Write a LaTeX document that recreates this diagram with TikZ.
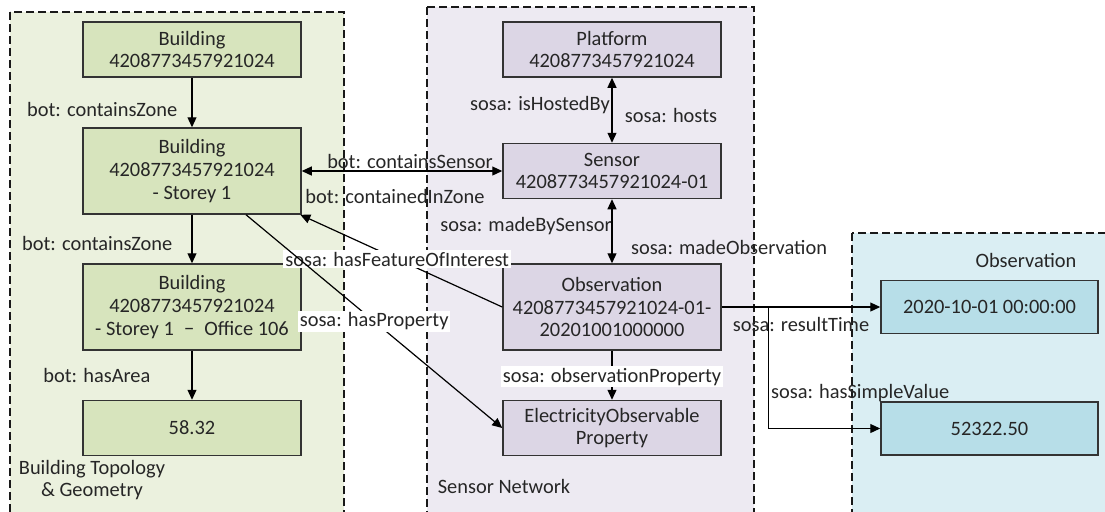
\documentclass[tikz,border=0pt]{standalone}
\usepackage{fontspec}
\setmainfont{Carlito}
\usetikzlibrary{arrows.meta}
\definecolor{greenbg}{HTML}{EBF1DE}
\definecolor{greenbox}{HTML}{D7E4BD}
\definecolor{purplebg}{HTML}{EDEAF2}
\definecolor{purplebox}{HTML}{DCD6E5}
\definecolor{bluebg}{HTML}{DAEEF3}
\definecolor{bluebox}{HTML}{B7DEE8}
\tikzset{
  region/.style={draw=black!90, line width=0.75pt, dash pattern=on 4pt off 2pt},
  box/.style={draw=black!80, line width=0.75pt, align=center, inner sep=0pt,
              minimum width=109pt, minimum height=27.5pt, text=black!85},
  tall/.style={minimum height=43pt},
  lbl/.style={inner sep=0pt, text=black!85},
  wlbl/.style={lbl, fill=white, inner sep=1pt},
}
\begin{document}
\begin{tikzpicture}[x=0.5pt, y=-0.5pt, font=\fontsize{10.2}{11.3}\selectfont,
                    >={Triangle[length=5pt,width=4.5pt]}]
\useasboundingbox (0,0) rectangle (1105,511);

% areas
\filldraw[region, fill=greenbg] (10,12) rectangle (344,530);
\filldraw[region, fill=purplebg] (427,7) rectangle (754,530);
\filldraw[region, fill=bluebg] (852,233) rectangle (1120,530);
\node[lbl, align=center] (TOPO) at (92,480) {Building Topology\\ \& Geometry};
\node[lbl] (SNET) at (504,486) {Sensor Network};
\node[lbl] (OBSA) at (1026,260) {Observation};

\begin{scope}[every node/.style={box, fill=greenbox}]
    \node (BLD) at (192,49.5) {Building\\4208773457921024};
    \node[tall] (STO) at (192,171) {Building\\4208773457921024\\- Storey 1};
    \node[tall] (OFF) at (192,307) {Building\\4208773457921024\\- Storey 1\enspace−\enspace Office 106};
    \node (AREA) at (192,428) {58.32};
\end{scope}

\begin{scope}[every node/.style={box, fill=purplebox}]
    \node (PLT) at (612,49.5) {Platform\\4208773457921024};
    \node (SEN) at (612,171) {Sensor\\4208773457921024-01};
    \node[tall] (OBS) at (612,307) {Observation\\4208773457921024-01-\\20201001000000};
    \node (PROP) at (612,428) {ElectricityObservable\\Property};
\end{scope}

\begin{scope}[every node/.style={box, fill=bluebox, minimum width=108.5pt, minimum height=26.5pt}]
    \node (TIME) at (989.5,307) {2020-10-01 00:00:00};
    \node (VAL) at (989.5,428.5) {52322.50};
\end{scope}

\begin{scope}[every edge/.style={draw=black, line width=0.6pt},
              every node/.style={lbl}]
    % topology
    \path [->] (BLD) edge node[pos=0.65, left=7pt] {bot: containsZone} (STO);
    \path [->] (STO) edge node[pos=0.59, left=9.5pt] {bot: containsZone} (OFF);
    \path [->] (OFF) edge node[pos=0.51, left=20.5pt] {bot: hasArea} (AREA);
    \path [<->] (STO) edge node[pos=0.54, yshift=5pt] {bot: containsSensor}
                           node[pos=0.465, yshift=-12.5pt] {bot: containedInZone} (SEN);
    % sensor network
    \path [<->] (PLT) edge node[pos=0.42, xshift=-36pt] {sosa: isHostedBy}
                           node[pos=0.58, xshift=29.5pt] {sosa: hosts} (SEN);
    \path [<->] (SEN) edge node[pos=0.42, xshift=-43pt] {sosa: madeBySensor}
                           node[pos=0.76, xshift=58.5pt] {sosa: madeObservation} (OBS);
    \path [->] (OBS.west) edge node[wlbl, pos=0.52] {sosa: hasFeatureOfInterest} (STO.-22);
    \path [->] (STO.-39) edge node[wlbl, pos=0.5] {sosa: hasProperty} (PROP.west);
    \path [->] (OBS) edge node[wlbl, pos=0.53] {sosa: observationProperty} (PROP);
    % result
    \path [->] (OBS) edge node[pos=0.5, yshift=-8.5pt] {sosa: resultTime} (TIME);
\end{scope}
\draw [->, line width=0.6pt] (OBS.east) -- ++(47,0) |- (VAL.west)
      node[lbl, pos=0.91, yshift=17.5pt] {sosa: hasSimpleValue};
\end{tikzpicture}
\end{document}
